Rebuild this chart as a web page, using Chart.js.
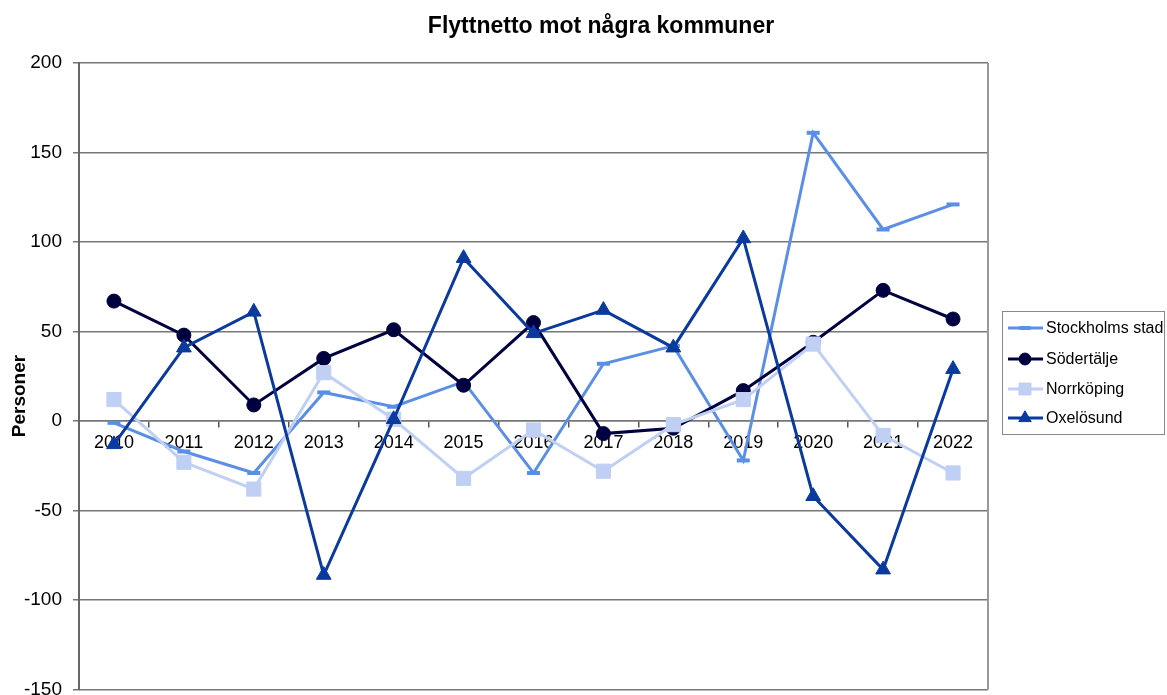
<!DOCTYPE html>
<html>
<head>
<meta charset="utf-8">
<script src="https://cdn.jsdelivr.net/npm/chart.js@4.4.1/dist/chart.umd.min.js"></script>
<style>
  html, body { margin: 0; padding: 0; background: #fff; overflow: hidden; }
  #wrap { position: relative; width: 1167px; height: 712px; }
</style>
</head>
<body>
<div id="wrap"><canvas id="chart"></canvas></div>
<script>
// data
const years = ['2010', '2011', '2012', '2013', '2014', '2015', '2016', '2017', '2018', '2019', '2020', '2021', '2022'];
const stockholm = [-1, -17, -29, 16, 8, 22, -29, 32, 42, -22, 161, 107, 121];
const sodertalje = [67, 48, 9, 35, 51, 20, 55, -7, -4, 17, 44, 73, 57];
const norrkoping = [12, -23, -38, 27, 1, -32, -5, -28, -2, 12, 43, -8, -29];
const oxelosund = [-13, 41, 61, -86, 1, 91, 49, 62, 41, 102, -42, -83, 29];
const yTicks = [-150, -100, -50, 0, 50, 100, 150, 200];

const chartTitle = 'Flyttnetto mot några kommuner';
const yTitle = 'Personer';
const FONT = 'Arial, "Liberation Sans", sans-serif';

const serier = [
    { label: 'Stockholms stad', data: stockholm, color: '#5B8FE6', pointStyle: 'line', radius: 6.5, order: 4 },
    { label: 'Södertälje', data: sodertalje, color: '#000040', pointStyle: 'circle', radius: 7, order: 3 },
    { label: 'Norrköping', data: norrkoping, color: '#C0D0F4', pointStyle: 'rect', radius: 10, order: 2 },
    { label: 'Oxelösund', data: oxelosund, color: '#0A3A9E', pointStyle: 'triangle', radius: 8.5, order: 1 }
];

// title, y axis title, right frame line and legend box
const extras = {
    id: 'extras',
    afterDraw(chart) {
        const ctx = chart.ctx;
        const area = chart.chartArea;
        ctx.save();

        ctx.strokeStyle = '#999';
        ctx.lineWidth = 2;
        ctx.beginPath();
        ctx.moveTo(area.right, area.top);
        ctx.lineTo(area.right, area.bottom);
        ctx.stroke();

        ctx.fillStyle = '#000';
        ctx.font = 'bold 23px ' + FONT;
        ctx.textAlign = 'center';
        ctx.textBaseline = 'alphabetic';
        ctx.fillText(chartTitle, 601, 33);

        ctx.save();
        ctx.translate(25, 396);
        ctx.rotate(-Math.PI / 2);
        ctx.font = 'bold 19px ' + FONT;
        ctx.fillText(yTitle, 0, 0);
        ctx.restore();

        // legend
        ctx.strokeStyle = '#888';
        ctx.lineWidth = 1;
        ctx.strokeRect(1002.5, 311.5, 162, 123);
        const rows = [328, 359, 389, 418];
        ctx.font = '16px ' + FONT;
        ctx.textAlign = 'left';
        ctx.textBaseline = 'middle';
        serier.forEach((s, i) => {
            const y = rows[i];
            ctx.strokeStyle = s.color;
            ctx.lineWidth = 3;
            ctx.beginPath();
            ctx.moveTo(1008, y);
            ctx.lineTo(1043, y);
            ctx.stroke();
            ctx.fillStyle = s.color;
            ctx.lineWidth = s.pointStyle === 'line' ? 4 : 1;
            Chart.helpers.drawPoint(ctx, { pointStyle: s.pointStyle, radius: s.radius * 0.85, rotation: 0, borderWidth: ctx.lineWidth }, 1025, y);
            ctx.fillStyle = '#000';
            ctx.fillText(s.label, 1046, y + 1);
        });
        ctx.restore();
    }
};

new Chart(document.getElementById('chart'), {
    type: 'line',
    data: {
        labels: years,
        datasets: serier.map(s => ({
            label: s.label,
            data: s.data,
            borderColor: s.color,
            backgroundColor: s.color,
            borderWidth: 3,
            tension: 0,
            pointStyle: s.pointStyle,
            pointRadius: s.radius,
            pointHoverRadius: s.radius,
            pointBorderWidth: s.pointStyle === 'line' ? 4 : 1,
            order: s.order,
            clip: false
        }))
    },
    plugins: [extras],
    options: {
        responsive: true,
        maintainAspectRatio: false,
        animation: false,
        events: [],
        layout: { padding: { top: 63, right: 179, bottom: 11, left: 0 } },
        plugins: { legend: { display: false }, title: { display: false }, tooltip: { enabled: false } },
        scales: {
            x: {
                type: 'category',
                position: { y: 0 },
                offset: true,
                grid: { offset: true, drawOnChartArea: false, drawTicks: true, tickLength: 6, color: '#555', lineWidth: 1.5 },
                border: { display: true, color: '#777', width: 1.5 },
                ticks: { color: '#000', font: { family: FONT, size: 18 }, padding: 5, maxRotation: 0, autoSkip: false }
            },
            y: {
                min: -150,
                max: 200,
                afterBuildTicks: (scale) => { scale.ticks = yTicks.map(v => ({ value: v })); },
                afterFit: (scale) => { scale.width = 79; },
                grid: { color: '#777', lineWidth: 1.5, tickLength: 6, drawTicks: true },
                border: { display: true, color: '#666', width: 2 },
                ticks: { color: '#000', font: { family: FONT, size: 19 }, padding: 11 }
            }
        }
    }
});
</script>
</body>
</html>
